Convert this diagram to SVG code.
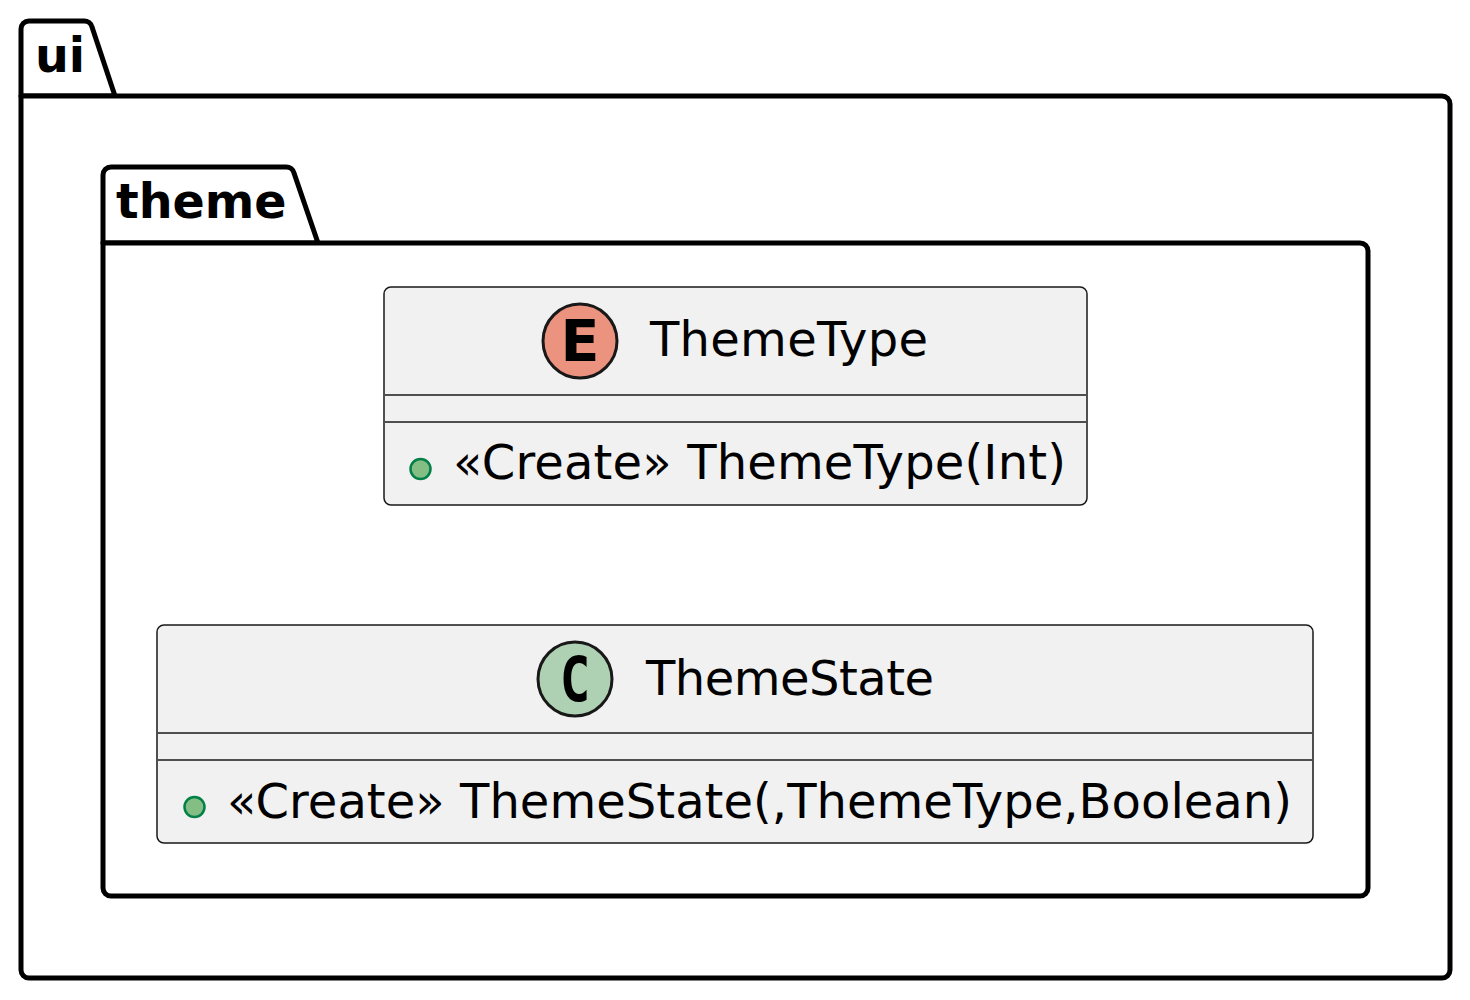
<svg xmlns="http://www.w3.org/2000/svg" width="1470" height="1000" viewBox="0 0 1470 1000">
<style>
.pkg{fill:#FFFFFF;stroke:#000000;stroke-width:5;stroke-linejoin:round}
.pkgname{font-family:"DejaVu Sans",sans-serif;font-weight:bold;font-size:47.5px;fill:#000000}
.box{fill:#F1F1F1;stroke:#181818;stroke-width:1.5}
.div{stroke:#181818;stroke-width:1.5}
.name{font-family:"DejaVu Sans",sans-serif;font-size:48px;fill:#000000}
.mem{font-family:"DejaVu Sans",sans-serif;font-size:48px;fill:#000000}
.pub{fill:#84BE84;stroke:#038048;stroke-width:2.5}
.spot{stroke:#181818;stroke-width:3}
.letterE{font-family:"DejaVu Sans",sans-serif;font-weight:bold;fill:#000000}
.letterC{font-family:"DejaVu Sans Mono",monospace;font-weight:bold;fill:#000000}
</style>
<rect width="1470" height="1000" fill="#FFFFFF"/>
<g id="pkg-ui">
<path class="pkg" d="M21,96 L21,29 A8,8 0 0 1 29,21 L84,21 A8,8 0 0 1 92,27 L115,96 Z"/>
<path class="pkg" d="M21,96 L1442,96 A8,8 0 0 1 1450,104 L1450,970 A8,8 0 0 1 1442,978 L29,978 A8,8 0 0 1 21,970 Z"/>
<text class="pkgname" x="35" y="72">ui</text>
</g>
<g id="pkg-theme">
<path class="pkg" d="M103,243 L103,175 A8,8 0 0 1 111,167 L286,167 A8,8 0 0 1 294,173 L318,243 Z"/>
<path class="pkg" d="M103,243 L1360,243 A8,8 0 0 1 1368,251 L1368,888 A8,8 0 0 1 1360,896 L111,896 A8,8 0 0 1 103,888 Z"/>
<text class="pkgname" x="116" y="218">theme</text>
</g>
<g id="ThemeType">
<rect class="box" x="384" y="287" width="703" height="218" rx="7"/>
<circle class="spot" cx="580" cy="341" r="37" fill="#EB937F"/>
<text class="letterE" x="580" y="361" font-size="57" text-anchor="middle">E</text>
<text class="name" x="650" y="356" textLength="278">ThemeType</text>
<line class="div" x1="385" y1="395" x2="1086" y2="395"/>
<line class="div" x1="385" y1="422" x2="1086" y2="422"/>
<circle class="pub" cx="420.5" cy="469" r="10"/>
<text class="mem" x="453" y="479" textLength="613">«Create» ThemeType(Int)</text>
</g>
<g id="ThemeState">
<rect class="box" x="157" y="625" width="1156" height="218" rx="7"/>
<circle class="spot" cx="575" cy="679" r="37" fill="#ADD1B2"/>
<text class="letterC" x="0" y="0" font-size="62" text-anchor="middle" transform="translate(575,701) scale(0.82,1)">C</text>
<text class="name" x="646" y="695" textLength="288">ThemeState</text>
<line class="div" x1="158" y1="733" x2="1312" y2="733"/>
<line class="div" x1="158" y1="760" x2="1312" y2="760"/>
<circle class="pub" cx="194.5" cy="807" r="10"/>
<text class="mem" x="227" y="818" textLength="1065">«Create» ThemeState(,ThemeType,Boolean)</text>
</g>
<g id="connectors"></g>
</svg>
